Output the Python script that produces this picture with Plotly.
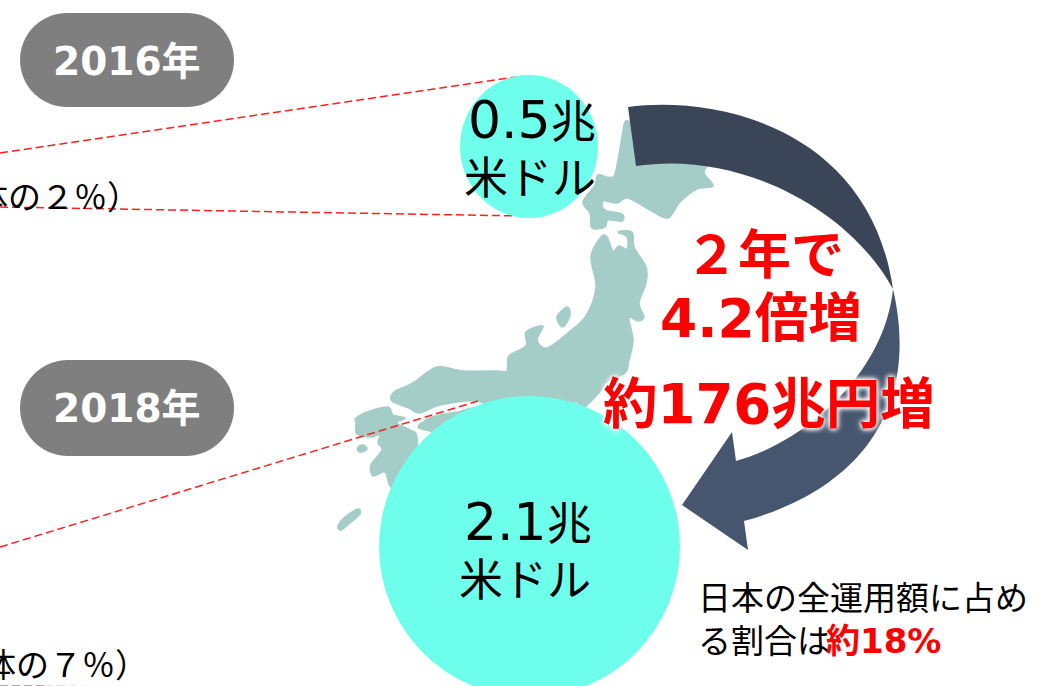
import plotly.graph_objects as go

WIDTH, HEIGHT = 1039, 686
FONT = "DejaVu Sans, Noto Sans CJK JP, sans-serif"

# Headline figures
years = ["2016年", "2018年"]
amount_numbers = ["0.5", "2.1"]
amount_unit = "兆"
unit = "米ドル"
shares = ["全体の２％）", "全体の７％）"]
growth_lines = ["２年で", "4.2倍増", "約176兆円増"]
note_lines = ["日本の全運用額に占め", "る割合は"]
note_highlight = "約18%"

# Landmass outlines, in canvas pixels
hokkaido = [(625, 122), (632, 123), (663, 140), (705, 160), (704, 173), (713, 186), (697, 189),
            (680, 202), (668, 218), (650, 210), (628, 198), (617, 203), (603, 201), (605, 210),
            (622, 214), (622, 221), (608, 220), (605, 227), (592, 228), (590, 213), (583, 202),
            (595, 185), (598, 175), (613, 177), (618, 160), (622, 137)]
honshu = [(618, 232), (632, 232), (634, 247), (646, 267), (646, 283), (639, 303), (644, 317),
          (638, 321), (629, 318), (633, 340), (629, 360), (625, 373), (608, 381), (598, 394),
          (583, 408), (575, 402), (560, 420), (500, 412), (477, 401), (440, 405), (420, 413),
          (409, 408), (392, 401), (394, 392), (413, 383), (437, 367), (463, 371), (497, 371),
          (507, 371), (509, 356), (526, 346), (526, 332), (543, 326), (537, 340), (547, 348),
          (569, 332), (586, 316), (596, 287), (591, 257), (601, 237), (607, 237), (613, 251),
          (619, 246), (627, 249), (627, 237)]
shikoku = [(418, 427), (430, 418), (445, 414), (458, 412), (475, 410), (470, 440), (430, 431)]
kyushu = [(356, 418), (370, 411), (388, 407), (393, 415), (405, 418), (397, 423), (410, 430),
          (417, 437), (415, 470), (400, 490), (390, 486), (385, 472), (373, 476), (371, 465),
          (382, 450), (378, 443), (380, 434), (373, 437), (357, 434), (356, 423)]
sado = [(557, 317), (567, 307), (570, 315), (563, 327)]
goto = [(358, 447), (363, 445), (367, 449), (362, 452), (358, 451)]
tanegashima = [(338, 526), (345, 517), (358, 509), (360, 514), (350, 523), (341, 530)]

# Curved arrow edges as cubic Bezier control points, in canvas pixels
arrow_split = (893, 289)
arrow_tail_outer = (628, 107)
arrow_tail_inner = (636, 166)
arrow_upper_outer = [(720, 95), (870, 130), arrow_split]
arrow_upper_inner = [(850, 210), (740, 150), arrow_tail_inner]
arrow_lower_outer = [(921, 410), (858, 490), (744, 521)]
arrow_head = [(748, 550), (682, 505), (732, 432), (736, 461)]
arrow_lower_inner = [(810, 440), (885, 370), arrow_split]

# Dashed leader lines
leaders = [((0, 153), (515, 77)), ((0, 207), (522, 216)), ((0, 547), (478, 401))]


def closed_smooth(points):
    # Closed Catmull-Rom outline written as cubic Bezier segments
    n = len(points)
    parts = [f"M{points[0][0]},{points[0][1]}"]
    for i in range(n):
        p0, p1, p2, p3 = points[i - 1], points[i], points[(i + 1) % n], points[(i + 2) % n]
        c1 = (p1[0] + (p2[0] - p0[0]) / 6, p1[1] + (p2[1] - p0[1]) / 6)
        c2 = (p2[0] - (p3[0] - p1[0]) / 6, p2[1] - (p3[1] - p1[1]) / 6)
        parts.append(f"C{c1[0]:.1f},{c1[1]:.1f} {c2[0]:.1f},{c2[1]:.1f} {p2[0]},{p2[1]}")
    return " ".join(parts) + " Z"


def cubic(controls):
    return "C" + " ".join(f"{x},{y}" for x, y in controls)


def pill(x0, y0, x1, y1):
    r = (y1 - y0) / 2
    k = r * 0.5523
    return (f"M{x0 + r},{y0} L{x1 - r},{y0} C{x1 - r + k},{y0} {x1},{y0 + r - k} {x1},{y0 + r} "
            f"C{x1},{y0 + r + k} {x1 - r + k},{y1} {x1 - r},{y1} L{x0 + r},{y1} "
            f"C{x0 + r - k},{y1} {x0},{y0 + r + k} {x0},{y0 + r} "
            f"C{x0},{y0 + r - k} {x0 + r - k},{y0} {x0 + r},{y0} Z")


def path_shape(path, color):
    return dict(type="path", path=path, fillcolor=color, line=dict(width=0), layer="above")


shapes = []
for outline in (hokkaido, honshu, shikoku, kyushu, sado, goto, tanegashima):
    shapes.append(dict(type="path", path=closed_smooth(outline), fillcolor="#A4CDC8",
                       line=dict(color="#A4CDC8", width=1.5), layer="above"))

for start, end in leaders:
    shapes.append(dict(type="line", x0=start[0], y0=start[1], x1=end[0], y1=end[1],
                       line=dict(color="#FF2020", width=1.5, dash="8px,4px"), layer="above"))
# The last leader runs along the bottom edge and fades out
shapes.append(dict(type="line", x0=0, y0=685.5, x1=45, y1=685.5,
                   line=dict(color="rgba(255,60,60,0.6)", width=1.2, dash="8px,4px"), layer="above"))
shapes.append(dict(type="line", x0=45, y0=685.5, x1=82, y1=685.5,
                   line=dict(color="rgba(255,60,60,0.2)", width=1.2, dash="8px,4px"), layer="above"))

shapes.append(path_shape(pill(20, 13, 234, 107), "#7F7F7F"))
shapes.append(path_shape(pill(20, 360, 234, 456), "#7F7F7F"))

shapes.append(dict(type="circle", x0=460, y0=75, x1=598, y1=218, fillcolor="#6DFFEB",
                   line=dict(width=0), layer="above"))
shapes.append(dict(type="circle", x0=379, y0=396, x1=680, y1=697, fillcolor="#6DFFEB",
                   line=dict(width=0), layer="above"))

upper_path = (f"M{arrow_tail_outer[0]},{arrow_tail_outer[1]} {cubic(arrow_upper_outer)} "
              f"{cubic(arrow_upper_inner)} Z")
shapes.append(path_shape(upper_path, "#3A4658"))
lower_path = (f"M{arrow_split[0]},{arrow_split[1]} {cubic(arrow_lower_outer)} "
              + " ".join(f"L{x},{y}" for x, y in arrow_head)
              + f" {cubic(arrow_lower_inner)} Z")
shapes.append(path_shape(lower_path, "#46566E"))


def label(text, x, y, size, color="#000000", bold=False, anchor="center", shadow=None):
    font = dict(family=FONT, size=size, color=color)
    if bold:
        font["weight"] = "bold"
    if shadow:
        font["shadow"] = shadow
    return dict(text=text, x=x, y=y, xref="x", yref="y", showarrow=False, xanchor=anchor,
                yanchor="middle", font=font, borderpad=0)


def amount_text(number):
    return f'{number}<span style="font-size:45px">{amount_unit}</span>'


GLOW = "0 0 6px #FFFFFF, 0 0 6px #FFFFFF, 0 0 4px #FFFFFF"
annotations = [
    label(years[0], 127, 61, 39, "#FFFFFF", True),
    label(years[1], 127, 408, 39, "#FFFFFF", True),
    label(amount_text(amount_numbers[0]), 532, 120, 52),
    label(unit, 530, 178, 44),
    label(amount_text(amount_numbers[1]), 528, 522, 52),
    label(unit, 525, 580, 44),
    label(shares[0], 141, 197, 33, anchor="right"),
    label(shares[1], 149, 665, 33, anchor="right"),
    label(growth_lines[0], 764, 255, 53, "#FF0000", True),
    label(growth_lines[1], 761, 318, 53.5, "#FF0000", True),
    label(growth_lines[2], 769, 404, 54.5, "#FF0000", True, shadow=GLOW),
    label(note_lines[0], 697, 598, 33, anchor="left"),
    label(note_lines[1], 697, 641, 33, anchor="left"),
    label(note_highlight, 825, 641, 34, "#FF0000", True, anchor="left"),
]

fig = go.Figure()
fig.update_layout(
    width=WIDTH, height=HEIGHT, margin=dict(l=0, r=0, t=0, b=0),
    paper_bgcolor="#FFFFFF", plot_bgcolor="#FFFFFF", showlegend=False,
    xaxis=dict(range=[0, WIDTH], visible=False, fixedrange=True),
    yaxis=dict(range=[HEIGHT, 0], visible=False, fixedrange=True),
    shapes=shapes, annotations=annotations,
)
fig.write_html("out.html", config=dict(displayModeBar=False))
